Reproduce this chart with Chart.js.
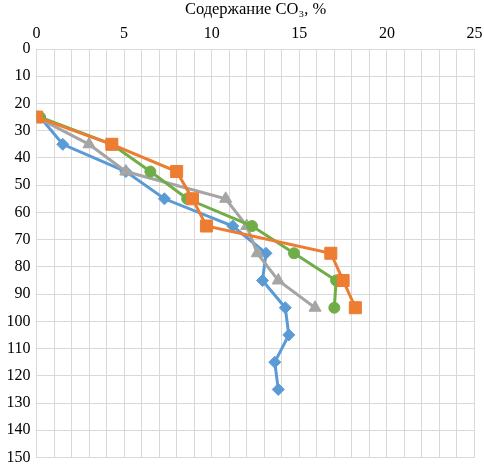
<!DOCTYPE html>
<html>
<head>
<meta charset="utf-8">
<script src="https://cdn.jsdelivr.net/npm/chart.js@4/dist/chart.umd.min.js"></script>
<style>
  html, body { margin: 0; padding: 0; background: #fff; }
  #wrap { width: 484px; height: 467px; }
</style>
</head>
<body>
<div id="wrap"><canvas id="co3Chart" width="484" height="467"></canvas></div>
<script>
// Depth (y) and CO3 content (x) for each profile
const depths = [25, 35, 45, 55, 65, 75, 85, 95, 105, 115, 125];
const blueVals = [0.2, 1.5, 5.1, 7.3, 11.2, 13.1, 12.9, 14.2, 14.4, 13.6, 13.8];
const orangeVals = [0, 4.3, 8.0, 8.9, 9.7, 16.8, 17.5, 18.2];
const greenVals = [0.2, 4.3, 6.5, 8.6, 12.3, 14.7, 17.1, 17.0];
const grayVals = [0, 3.0, 5.1, 10.8, 12.0, 12.6, 13.8, 15.9];
// x grid every 1 %, labels every 5 %
const xTicks = [0, 1, 2, 3, 4, 5, 6, 7, 8, 9, 10, 11, 12, 13, 14, 15, 16, 17, 18, 19, 20, 21, 22, 23, 24, 25];
const xLabelStep = 5;

function toPoints(vals) {
    return vals.map((v, i) => ({ x: v, y: depths[i] }));
}

function series(vals, color, style, radius) {
    return {
        data: toPoints(vals),
        showLine: true,
        borderColor: color,
        backgroundColor: color,
        borderWidth: 3,
        pointStyle: style,
        pointRadius: radius,
        pointBorderWidth: 1,
        tension: 0
    };
}

const serif = 'Liberation Serif, Times New Roman, serif';

const ctx = document.getElementById('co3Chart').getContext('2d');
new Chart(ctx, {
    type: 'scatter',
    data: {
        datasets: [
            series(orangeVals, '#ED7D31', 'rect', 8.5),
            series(greenVals, '#70AD47', 'circle', 5.5),
            series(grayVals, '#A5A5A5', 'triangle', 7),
            series(blueVals, '#5B9BD5', 'rectRot', 6)
        ]
    },
    options: {
        responsive: false,
        animation: false,
        layout: { padding: { left: 0, top: 0, right: 8, bottom: 6 } },
        plugins: { legend: { display: false }, tooltip: { enabled: false } },
        scales: {
            x: {
                position: 'top',
                min: 0,
                max: 25,
                grid: { color: '#d9d9d9', drawTicks: false },
                border: { color: '#d9d9d9' },
                afterBuildTicks: s => { s.ticks = xTicks.map(v => ({ value: v })); },
                ticks: {
                    autoSkip: false,
                    maxRotation: 0,
                    padding: 6,
                    color: '#000',
                    font: { family: serif, size: 16 },
                    callback: v => (v % xLabelStep === 0 ? v : '')
                },
                title: {
                    display: true,
                    text: 'Содержание CO₃, %',
                    color: '#000',
                    font: { family: serif, size: 16.5 },
                    padding: { top: 0, bottom: 3 }
                },
                afterFit: s => { s.height = 49; s.paddingRight = 0; s.paddingLeft = 0; }
            },
            y: {
                reverse: true,
                min: 0,
                max: 150,
                grid: { color: '#d9d9d9', drawTicks: false },
                border: { color: '#d9d9d9' },
                ticks: {
                    stepSize: 10,
                    padding: 6,
                    color: '#000',
                    font: { family: serif, size: 16 }
                },
                afterFit: s => { s.width = 36.5; s.paddingBottom = 0; s.paddingTop = 0; }
            }
        }
    }
});
</script>
</body>
</html>
